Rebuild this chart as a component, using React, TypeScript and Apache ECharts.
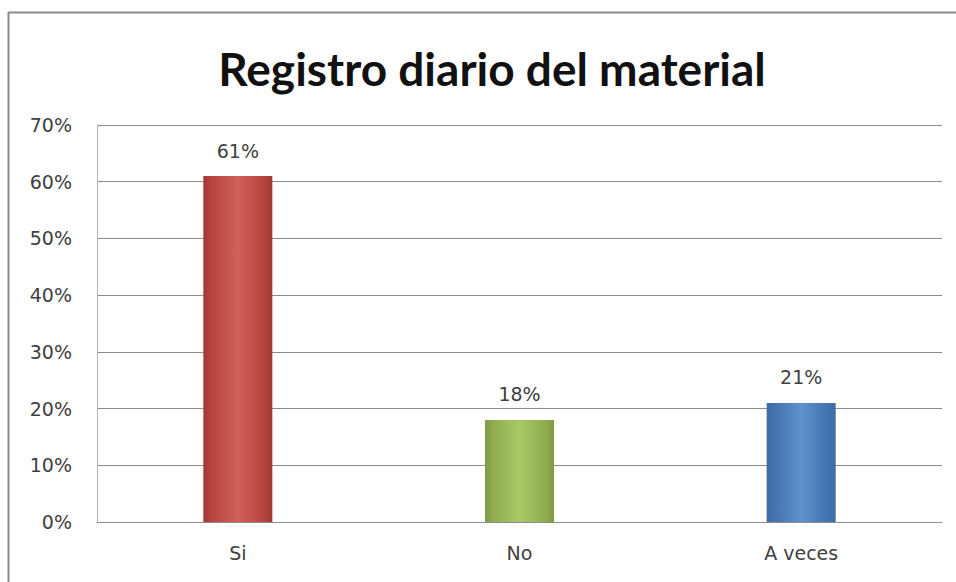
import React, { useEffect, useRef } from "react";
import * as echarts from "echarts";

const categories = ["Si", "No", "A veces"];
const values = [61, 18, 21];
const barColors = [
  ["#9c3a37", "#d0615d", "#b8433f"],
  ["#7f9a45", "#a9c866", "#8fad4f"],
  ["#3d6aa3", "#5f91cc", "#4474b0"],
];
const yTicks = [0, 10, 20, 30, 40, 50, 60, 70];

export default function App() {
  const ref = useRef<HTMLDivElement>(null);
  useEffect(() => {
    if (!ref.current) return;
    const chart = echarts.init(ref.current, undefined, { renderer: "svg" });
    const titleFont = "Lato, 'Open Sans', sans-serif";
    const font = "'DejaVu Sans', sans-serif";
    chart.setOption({
      animation: false,
      backgroundColor: "#ffffff",
      title: {
        text: "Registro diario del material",
        left: 487,
        textAlign: "center",
        top: 40,
        textStyle: { fontFamily: titleFont, fontWeight: "bold", fontSize: 46, color: "#111" },
      },
      graphic: [
        {
          type: "line",
          shape: { x1: 8, y1: 12.5, x2: 956, y2: 12.5 },
          style: { stroke: "#8a8a8a", lineWidth: 2 },
          silent: true,
        },
        {
          type: "line",
          shape: { x1: 8.5, y1: 12, x2: 8.5, y2: 582 },
          style: { stroke: "#8a8a8a", lineWidth: 2 },
          silent: true,
        },
      ],
      grid: { left: 97, right: 14, top: 125, bottom: 60, containLabel: false },
      xAxis: {
        type: "category",
        data: categories,
        axisLine: { show: true, lineStyle: { color: "#8c8c8c", width: 1 } },
        axisTick: { show: false },
        axisLabel: { fontFamily: font, fontSize: 19, color: "#404040", margin: 21 },
      },
      yAxis: {
        type: "value",
        min: yTicks[0],
        max: yTicks[yTicks.length - 1],
        interval: 10,
        axisLine: { show: true, lineStyle: { color: "#b4b4b4", width: 1 } },
        axisTick: { show: false },
        splitLine: { lineStyle: { color: "#8c8c8c", width: 1 } },
        axisLabel: {
          fontFamily: font,
          fontSize: 19,
          color: "#404040",
          margin: 25,
          formatter: (v: number) => v + "%",
        },
      },
      series: [
        {
          type: "bar",
          barWidth: "24.5%",
          data: values.map((v, i) => ({
            value: v,
            itemStyle: {
              color: new echarts.graphic.LinearGradient(0, 0, 1, 0, [
                { offset: 0, color: barColors[i][0] },
                { offset: 0.12, color: barColors[i][2] },
                { offset: 0.5, color: barColors[i][1] },
                { offset: 0.88, color: barColors[i][2] },
                { offset: 1, color: barColors[i][0] },
              ]),
            },
          })),
          label: {
            show: true,
            position: "top",
            distance: 16,
            fontFamily: font,
            fontSize: 19,
            color: "#404040",
            formatter: (p: any) => p.value + "%",
          },
        },
      ],
    });
    return () => chart.dispose();
  }, []);
  return (
    <div
      ref={ref}
      style={{ position: "fixed", left: 0, top: 0, width: 956, height: 582 }}
    />
  );
}
